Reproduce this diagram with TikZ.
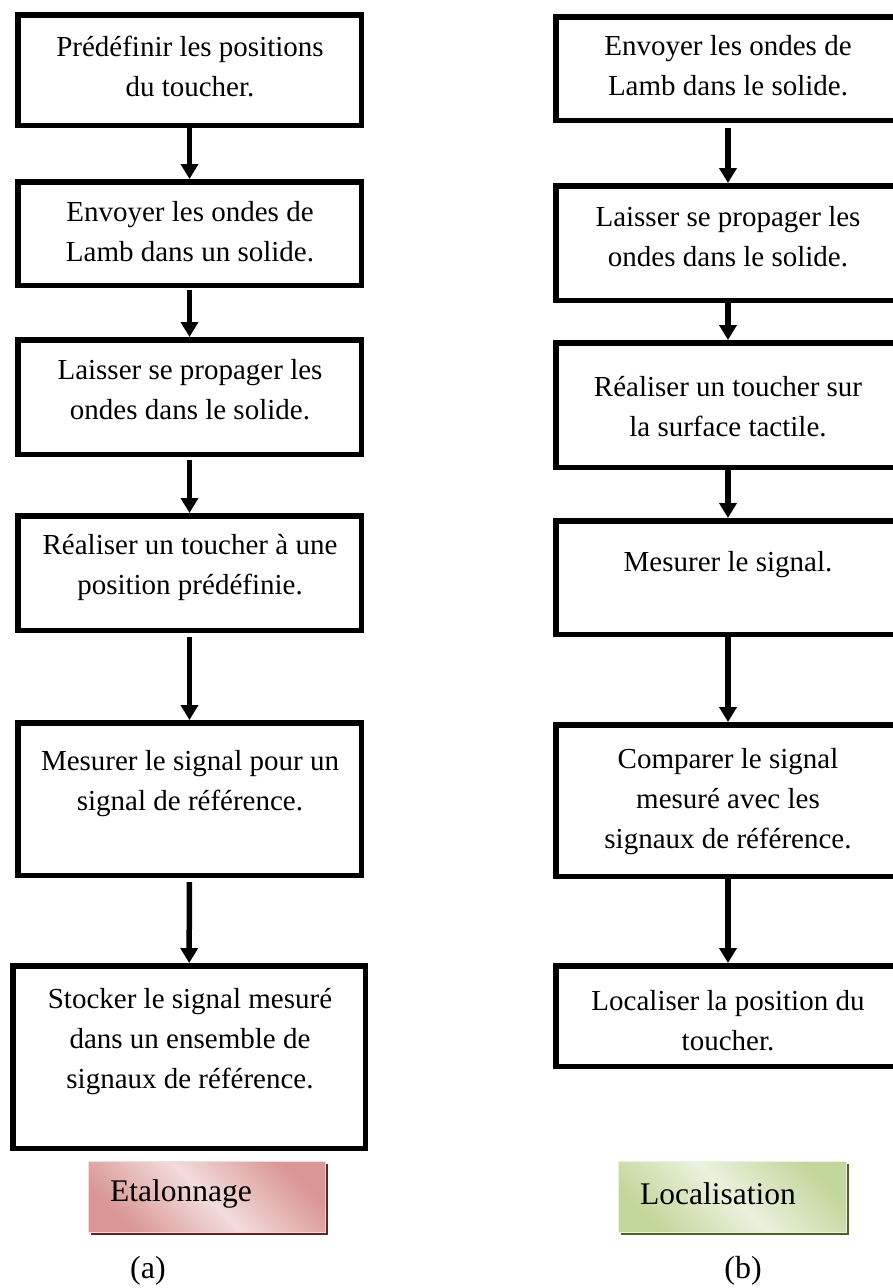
\documentclass[tikz,border=0pt]{standalone}
\usepackage{fontspec}
\setmainfont{Liberation Serif}
\usetikzlibrary{arrows.meta}
\definecolor{pinkD}{HTML}{D99694}
\definecolor{pinkL}{HTML}{F2DCDB}
\definecolor{pinkS}{HTML}{632523}
\definecolor{greenD}{HTML}{C3D69B}
\definecolor{greenL}{HTML}{EBF1DE}
\definecolor{greenS}{HTML}{4F6228}
\begin{document}
\begin{tikzpicture}[x=1pt,y=-1pt,
  box/.style={draw, line width=5.5pt, rectangle, inner sep=0pt},
  txt/.style={align=center, font=\fontsize{29}{40}\selectfont, inner sep=0pt},
  flow/.style={line width=5.5pt, -{Triangle[width=17pt,length=15pt]}},
  lbl/.style={font=\fontsize{31.5}{36}\selectfont, inner sep=0pt, anchor=west},
  captxt/.style={font=\fontsize{32}{36}\selectfont, inner sep=0pt}]
\useasboundingbox (0,0) rectangle (892,1288);

% ---- left column (a)
\node[box, minimum width=343.5pt, minimum height=110.5pt] (l1) at (189.5,70) {};
\node[box, minimum width=343.5pt, minimum height=103.5pt] (l2) at (189.5,233.5) {};
\node[box, minimum width=343.5pt, minimum height=114.5pt] (l3) at (189.5,397) {};
\node[box, minimum width=343.5pt, minimum height=114.5pt] (l4) at (189.5,573) {};
\node[box, minimum width=343.5pt, minimum height=152.5pt] (l5) at (189.5,799) {};
\node[box, minimum width=352.5pt, minimum height=182.5pt] (l6) at (189,1057) {};

\node[txt] (l1t) at (190,66) {Prédéfinir les positions\\du toucher.};
\node[txt] (l2t) at (190,232) {Envoyer les ondes de\\Lamb dans un solide.};
\node[txt] (l3t) at (190,390) {Laisser se propager les\\ondes dans le solide.};
\node[txt] (l4t) at (190,567) {Réaliser un toucher à une\\position prédéfinie.};
\node[txt] (l5t) at (190,784) {Mesurer le signal pour un\\signal de référence.};
\node[txt] (l6t) at (190,1042) {Stocker le signal mesuré\\dans un ensemble de\\signaux de référence.};

\draw[flow] (l1) -- (l2);
\draw[flow, shorten <=2pt] (l2) -- (l3);
\draw[flow, shorten <=3pt] (l3) -- (l4);
\draw[flow, shorten <=4pt] (l4) -- (l5);
\draw[flow, shorten <=4pt] (l5) -- (l6);

% ---- right column (b)
\node[box, minimum width=344.5pt, minimum height=103.5pt] (r1) at (728,68.5) {};
\node[box, minimum width=344.5pt, minimum height=114.5pt] (r2) at (728,243) {};
\node[box, minimum width=344.5pt, minimum height=124.5pt] (r3) at (728,405) {};
\node[box, minimum width=344.5pt, minimum height=113.5pt] (r4) at (728,577.5) {};
\node[box, minimum width=344.5pt, minimum height=151.5pt] (r5) at (728,800.5) {};
\node[box, minimum width=344.5pt, minimum height=100.5pt] (r6) at (728,1016) {};

\node[txt] (r1t) at (728,66) {Envoyer les ondes de\\Lamb dans le solide.};
\node[txt] (r2t) at (728,237) {Laisser se propager les\\ondes dans le solide.};
\node[txt] (r3t) at (728,407) {Réaliser un toucher sur\\la surface tactile.};
\node[txt] (r4t) at (728,565) {Mesurer le signal.};
\node[txt] (r5t) at (728,802) {Comparer le signal\\mesuré avec les\\signaux de référence.};
\node[txt] (r6t) at (728,1021) {Localiser la position du\\toucher.};

\draw[flow, shorten <=5pt] (r1) -- (r2);
\draw[flow] (r2) -- (r3);
\draw[flow] (r3) -- (r4);
\draw[flow] (r4) -- (r5);
\draw[flow] (r5) -- (r6);

% ---- labels
\fill[pinkS] (91,1164) rectangle (328,1235);
\path[draw=pinkL, line width=1pt, top color=pinkD, bottom color=pinkD, middle color=pinkL, shading angle=-45]
  (88,1161) rectangle (325,1232);
\node[lbl] (etal) at (110,1194) {Etalonnage};

\fill[greenS] (621,1164) rectangle (849,1235);
\path[draw=greenL, line width=1pt, top color=greenD, bottom color=greenD, middle color=greenL, shading angle=-45]
  (618,1161) rectangle (846,1232);
\node[lbl] (loc) at (640,1194) {Localisation};

\node[captxt] (capa) at (148,1271) {(a)};
\node[captxt] (capb) at (743,1271) {(b)};
\end{tikzpicture}
\end{document}
